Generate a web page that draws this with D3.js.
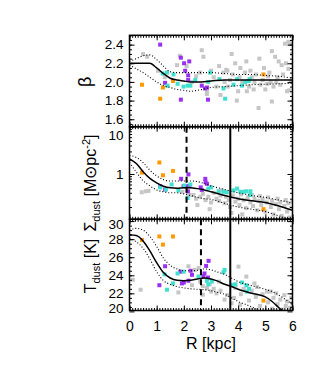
<!DOCTYPE html>
<html>
<head>
<meta charset="utf-8">
<script src="https://cdn.jsdelivr.net/npm/d3@7"></script>
<style>
body { margin: 0; background: #fff; }
text { font-family: "Liberation Sans", Arial, sans-serif; fill: #000; }
</style>
</head>
<body>
<div id="chart"></div>
<script>
// radial profiles: median and 16/84 percentile curves
var betaR = [0, 0.25, 0.5, 0.75, 1, 1.25, 1.5, 1.75, 2, 2.25, 2.5, 3, 3.5, 4, 4.5, 5, 5.5, 6];
var betaMed = [2.2, 2.2, 2.2, 2.2, 2.15, 2.09, 2.04, 2.02, 2.01, 2.0, 2.0, 2.01, 2.02, 2.02, 2.02, 2.02, 2.02, 2.02];
var betaHi = [2.22, 2.25, 2.28, 2.29, 2.24, 2.17, 2.11, 2.1, 2.1, 2.1, 2.1, 2.1, 2.09, 2.08, 2.08, 2.07, 2.06, 2.04];
var betaLo = [2.18, 2.14, 2.1, 2.05, 2.0, 1.96, 1.94, 1.92, 1.91, 1.9, 1.91, 1.94, 1.95, 1.96, 1.97, 1.975, 1.98, 1.985];

var sigR = [0, 0.25, 0.5, 0.75, 1, 1.25, 1.5, 1.75, 2, 2.25, 2.5, 2.75, 3, 3.5, 4, 4.5, 5, 5.5, 6];
var sigMed = [2.09, 1.66, 1.12, 0.81, 0.65, 0.55, 0.51, 0.5, 0.51, 0.51, 0.49, 0.46, 0.42, 0.35, 0.3, 0.27, 0.25, 0.21, 0.17];
var sigHi = [2.45, 2.24, 1.74, 1.2, 0.91, 0.76, 0.71, 0.71, 0.71, 0.71, 0.69, 0.63, 0.56, 0.47, 0.4, 0.35, 0.32, 0.28, 0.24];
var sigLo = [1.74, 1.1, 0.72, 0.56, 0.46, 0.42, 0.4, 0.4, 0.38, 0.35, 0.32, 0.3, 0.29, 0.24, 0.2, 0.18, 0.16, 0.13, 0.105];

var tR = [0, 0.25, 0.5, 0.75, 1, 1.25, 1.5, 1.75, 2, 2.25, 2.5, 2.75, 3, 3.25, 3.5, 3.75, 4, 4.5, 5, 5.25, 5.5, 5.75, 6];
var tMed = [28.5, 28.4, 27.8, 26.7, 25.4, 24.3, 23.7, 23.45, 23.4, 23.45, 23.6, 23.7, 23.6, 23.35, 23.0, 22.75, 22.45, 22.0, 21.6, 21.1, 20.4, 19.7, 19.0];
var tHi = [29.0, 29.2, 29.0, 28.3, 27.2, 25.9, 25.1, 24.7, 24.5, 24.5, 24.55, 24.7, 24.6, 24.35, 24.1, 23.7, 23.3, 22.85, 22.45, 22.2, 21.8, 21.3, 20.8];
var tLo = [28.1, 27.7, 27.0, 25.8, 24.4, 23.4, 23.0, 22.75, 22.6, 22.5, 22.45, 22.4, 22.3, 22.1, 21.9, 21.5, 21.1, 20.5, 19.7, 19.3, 18.9, 18.5, 18.2];

// pixels: [R, value]
var grayBeta = [[0.5,2.30],[0.65,2.27],[1.05,2.12],[1.3,2.05],[1.75,2.18],[1.85,2.28],[2.1,2.17],[2.3,2.0],[2.66,2.34],[2.72,2.27],[2.85,1.90],[2.85,1.87],[2.6,2.1],[3.0,2.12],[3.1,2.05],[3.3,2.17],[3.35,1.86],[3.46,2.1],[3.5,2.0],[3.56,2.13],[3.6,2.12],[3.62,1.95],[3.76,2.3],[3.8,2.08],[3.89,2.2],[3.95,1.8],[4.0,1.9],[4.05,2.05],[4.08,2.15],[4.15,2.0],[4.25,2.1],[4.32,1.9],[4.4,1.95],[4.45,2.12],[4.5,2.05],[4.57,1.92],[4.6,2.0],[4.65,2.08],[4.75,1.72],[4.78,2.25],[4.82,1.97],[4.9,2.02],[4.95,2.15],[5.0,1.92],[5.07,1.98],[5.1,2.06],[5.15,2.1],[5.24,2.33],[5.24,1.79],[5.3,1.95],[5.36,2.27],[5.4,2.0],[5.45,2.05],[5.49,2.22],[5.55,1.97],[5.6,2.18],[5.65,2.08],[5.72,2.41],[5.76,2.2],[5.8,1.9],[5.85,2.43],[5.85,2.14],[5.88,1.91],[5.91,2.41],[5.95,2.0],[5.98,2.3],[3.2,1.95],[3.7,2.02],[4.3,2.22],[5.2,2.0],[2.45,2.06]];
var orangeBeta = [[0.46,1.97],[1.13,1.82],[1.23,1.94],[1.6,2.01],[4.93,2.08]];
var purpleBeta = [[1.13,2.40],[1.31,1.99],[1.89,1.81],[1.89,2.26],[2.01,2.2],[2.05,2.12],[2.2,2.22],[2.16,2.07],[2.16,2.02],[2.66,1.96],[2.78,1.93],[2.85,1.94],[2.89,1.81]];
var turqBeta = [[1.22,2.09],[1.38,2.10],[1.4,1.96],[1.62,2.08],[1.77,1.98],[1.99,1.95],[2.14,1.96],[2.24,1.96],[2.42,2.02],[2.9,2.0],[2.97,2.1],[3.31,2.03],[3.46,1.93],[3.52,1.82],[3.83,1.97],[3.96,2.03],[4.14,1.96],[4.26,2.0],[4.39,2.01],[4.42,2.03]];

var graySig = [[0.45,0.41],[0.6,0.43],[0.7,0.44],[1.95,0.42],[2.2,0.36],[2.35,0.36],[2.45,0.3],[2.5,0.22],[2.6,0.33],[2.7,0.38],[2.8,0.28],[2.9,0.33],[3.0,0.25],[3.1,0.4],[3.2,0.3],[3.3,0.27],[3.35,0.35],[3.4,0.45],[3.5,0.24],[3.55,0.33],[3.65,0.28],[3.7,0.2],[3.8,0.35],[3.9,0.26],[4.0,0.3],[4.05,0.22],[4.1,0.37],[4.2,0.28],[4.3,0.19],[4.35,0.32],[4.45,0.25],[4.5,0.36],[4.55,0.21],[4.6,0.3],[4.7,0.17],[4.75,0.27],[4.8,0.34],[4.85,0.22],[4.9,0.29],[5.0,0.16],[5.05,0.25],[5.1,0.32],[5.2,0.2],[5.25,0.27],[5.3,0.14],[5.4,0.23],[5.45,0.3],[5.5,0.18],[5.55,0.25],[5.6,0.13],[5.7,0.21],[5.75,0.28],[5.8,0.16],[5.85,0.24],[5.9,0.12],[5.95,0.19],[6.0,0.26],[3.75,0.15],[4.15,0.14],[2.95,0.18]];
var orangeSig = [[1.1,1.75],[0.46,1.07],[1.23,0.94],[1.6,1.16],[4.93,0.18]];
var purpleSig = [[1.13,0.55],[1.31,0.47],[1.9,0.79],[1.99,0.55],[2.17,0.98],[2.1,0.55],[2.15,0.43],[2.2,0.55],[2.66,0.46],[2.79,0.79],[2.85,0.62],[2.8,0.67],[2.62,0.52]];
var turqSig = [[1.13,0.52],[1.34,0.47],[1.55,0.6],[1.8,0.45],[2.02,0.57],[2.14,0.31],[2.24,0.6],[2.9,0.49],[3.0,0.52],[3.28,0.43],[3.46,0.42],[3.58,0.41],[3.83,0.45],[3.96,0.49],[4.08,0.42],[4.2,0.42],[4.3,0.43],[4.45,0.43],[4.45,0.36]];

var grayT = [[0.12,23.5],[0.41,22.4],[1.8,22.1],[2.17,25.0],[2.4,24.6],[2.55,24.8],[2.7,22.8],[2.85,22.6],[2.95,23.0],[3.1,22.5],[2.7,21.85],[3.0,22.2],[3.2,22.0],[3.35,22.3],[3.5,21.3],[3.6,21.8],[3.76,20.9],[3.85,21.5],[4.01,24.96],[4.07,20.74],[4.1,21.9],[4.2,22.5],[4.3,23.86],[4.4,21.2],[4.5,22.3],[4.6,23.1],[4.65,21.6],[4.7,22.7],[4.8,20.6],[4.9,21.9],[5.06,22.2],[5.1,21.0],[5.2,22.2],[5.25,20.3],[5.3,21.5],[5.4,22.0],[5.45,20.8],[5.55,21.3],[5.6,20.2],[5.7,21.8],[5.75,20.6],[5.8,21.1],[5.9,20.4],[5.95,21.5],[6.0,20.9],[3.3,23.3],[3.9,22.6],[4.45,20.2],[2.3,22.9],[2.6,23.3]];
var orangeT = [[0.46,27.9],[1.1,28.3],[1.23,27.4],[1.6,28.3],[4.93,21.2]];
var purpleT = [[1.31,25.0],[1.1,22.9],[1.87,24.4],[1.93,23.1],[2.0,23.2],[2.17,23.4],[2.3,24.05],[2.25,24.5],[2.72,23.9],[2.76,24.2],[2.82,25.04],[2.91,25.6],[2.89,23.75]];
var turqT = [[1.29,24.1],[1.38,22.4],[1.6,23.1],[1.77,24.2],[1.99,24.4],[2.54,23.86],[2.85,23.38],[2.9,23.0],[3.03,23.31],[3.46,24.34],[3.5,24.6],[3.8,22.94],[3.9,23.0],[4.14,23.2],[4.3,22.9],[4.32,22.2],[4.4,22.5]];

var xTicks = [0, 1, 2, 3, 4, 5, 6];
var betaTicks = [1.6, 1.8, 2.0, 2.2, 2.4];
var sigTicks = [1, 10];
var tTicks = [20, 22, 24, 26, 28, 30];

var dashedR = [2.1, 2.63];   // panel 2, panel 3
var solidR = 3.71;

var colors = { gray: "#c6c6c6", orange: "#ff9900", purple: "#9a30f0", turq: "#40e0d0" };

var W = 314, H = 365;
var x = d3.scaleLinear().domain([0, 6]).range([129.5, 292.5]);

var svg = d3.select("#chart").append("svg")
    .attr("width", W)
    .attr("height", H);

var yB = d3.scaleLinear().domain([1.52, 2.5]).range([126.7, 35.3]);
var yS = d3.scaleLog().domain([0.11, 10]).range([219.3, 126.7]);
var yT = d3.scaleLinear().domain([20.1, 30.2]).range([310.5, 219.3]);

// tick labels sitting on a panel edge are pulled inside so they don't collide
var labelShift = { "10": 8, "30": 2.8, "20": -3 };

function range(a, b, s) {
  var out = [];
  for (var v = a; v <= b + 1e-9; v += s) out.push(+v.toFixed(4));
  return out;
}

function panel(id, y, gray, orange, purple, turq, R, med, hi, lo) {
  var top = y.range()[1], bot = y.range()[0];
  var g = svg.append("g");

  svg.append("clipPath").attr("id", "clip" + id)
    .append("rect")
      .attr("x", x.range()[0]).attr("y", top)
      .attr("width", x.range()[1] - x.range()[0]).attr("height", bot - top);

  var inner = g.append("g").attr("clip-path", "url(#clip" + id + ")");

  function dots(data, col) {
    inner.append("g").selectAll("rect")
      .data(data)
      .enter()
      .append("rect")
        .attr("x", function (d) { return x(d[0]) - 2; })
        .attr("y", function (d) { return y(d[1]) - 2; })
        .attr("width", 4).attr("height", 4)
        .attr("fill", col);
  }
  dots(gray, colors.gray);
  dots(orange, colors.orange);
  dots(purple, colors.purple);
  dots(turq, colors.turq);

  var line = d3.line()
    .x(function (d) { return x(d[0]); })
    .y(function (d) { return y(d[1]); })
    .curve(d3.curveMonotoneX);

  [hi, lo].forEach(function (v) {
    inner.append("path")
      .datum(R.map(function (r, i) { return [r, v[i]]; }))
      .attr("d", line)
      .attr("fill", "none")
      .attr("stroke", "#000")
      .attr("stroke-width", 1.1)
      .attr("stroke-dasharray", "1,2");
  });
  inner.append("path")
    .datum(R.map(function (r, i) { return [r, med[i]]; }))
    .attr("d", line)
    .attr("fill", "none")
    .attr("stroke", "#000")
    .attr("stroke-width", 1.5);

  return g;
}

function axes(g, y, major, minor, fmt, showX) {
  var top = y.range()[1], bot = y.range()[0];
  var l = x.range()[0], r = x.range()[1];

  // y ticks
  g.append("g").attr("transform", "translate(" + l + ",0)")
    .call(d3.axisLeft(y).tickValues(minor).tickSize(-2.5).tickFormat(""));
  g.append("g").attr("transform", "translate(" + r + ",0)")
    .call(d3.axisRight(y).tickValues(minor).tickSize(-2.5).tickFormat(""));
  var yl = g.append("g").attr("transform", "translate(" + l + ",0)")
    .call(d3.axisLeft(y).tickValues(major).tickSize(-5).tickPadding(6).tickFormat(fmt));
  g.append("g").attr("transform", "translate(" + r + ",0)")
    .call(d3.axisRight(y).tickValues(major).tickSize(-5).tickFormat(""));
  yl.selectAll("text")
    .style("font-size", "13.5px")
    .attr("y", function (d) { return labelShift[fmt(d)] || 0; })
    .attr("dy", "0.32em");

  // x ticks
  var xMinor = range(0, 6, 0.1);
  g.append("g").attr("transform", "translate(0," + top + ")")
    .call(d3.axisTop(x).tickValues(xMinor).tickSize(-2.5).tickFormat(""));
  g.append("g").attr("transform", "translate(0," + top + ")")
    .call(d3.axisTop(x).tickValues(xTicks).tickSize(-5).tickFormat(""));
  g.append("g").attr("transform", "translate(0," + bot + ")")
    .call(d3.axisBottom(x).tickValues(xMinor).tickSize(-2.5).tickFormat(""));
  var xa = g.append("g").attr("transform", "translate(0," + bot + ")")
    .call(d3.axisBottom(x).tickValues(xTicks).tickSize(-5).tickPadding(11)
      .tickFormat(showX ? d3.format("d") : ""));
  xa.selectAll("text").style("font-size", "14px");

  g.selectAll(".domain").remove();
  g.selectAll(".tick line").attr("stroke", "#000").attr("stroke-width", 1);

  g.append("rect")
    .attr("x", l).attr("y", top)
    .attr("width", r - l).attr("height", bot - top)
    .attr("fill", "none").attr("stroke", "#000").attr("stroke-width", 1.5);
}

var g1 = panel(1, yB, grayBeta, orangeBeta, purpleBeta, turqBeta, betaR, betaMed, betaHi, betaLo);
var g2 = panel(2, yS, graySig, orangeSig, purpleSig, turqSig, sigR, sigMed, sigHi, sigLo);
var g3 = panel(3, yT, grayT, orangeT, purpleT, turqT, tR, tMed, tHi, tLo);

// vertical markers
g2.append("line")
  .attr("x1", x(dashedR[0])).attr("x2", x(dashedR[0]))
  .attr("y1", yS.range()[1]).attr("y2", yS.range()[0])
  .attr("stroke", "#000").attr("stroke-width", 2).attr("stroke-dasharray", "6,4");
g3.append("line")
  .attr("x1", x(dashedR[1])).attr("x2", x(dashedR[1]))
  .attr("y1", yT.range()[1]).attr("y2", yT.range()[0])
  .attr("stroke", "#000").attr("stroke-width", 2).attr("stroke-dasharray", "6,4");
svg.append("line")
  .attr("x1", x(solidR)).attr("x2", x(solidR))
  .attr("y1", yS.range()[1]).attr("y2", yT.range()[0])
  .attr("stroke", "#000").attr("stroke-width", 2);

axes(g1, yB, betaTicks, range(1.55, 2.5, 0.05), d3.format(".1f"), false);
var sigMinor = [];
[0.1, 1].forEach(function (d) { for (var k = 2; k <= 9; k++) sigMinor.push(+(d * k).toFixed(2)); });
axes(g2, yS, sigTicks, sigMinor.filter(function (v) { return v >= 0.11; }), d3.format("d"), false);
axes(g3, yT, tTicks, range(20.5, 30, 0.5), d3.format("d"), true);

// axis titles
svg.append("text")
  .attr("transform", "translate(91," + yB(2.0) + ") rotate(-90)")
  .attr("text-anchor", "middle")
  .style("font-size", "18px")
  .text("β");

var sl = svg.append("text")
  .attr("transform", "translate(96,183) rotate(-90)")
  .attr("text-anchor", "middle")
  .style("font-size", "16px");
sl.append("tspan").text("Σ");
sl.append("tspan").attr("dy", 4).style("font-size", "11px").text("dust");
sl.append("tspan").attr("dy", -4).text(" [M");
sl.append("tspan").text("⊙");
sl.append("tspan").text("pc");
sl.append("tspan").attr("dy", -6).style("font-size", "11px").text("-2");
sl.append("tspan").attr("dy", 6).text("]");

var tl = svg.append("text")
  .attr("transform", "translate(96,266) rotate(-90)")
  .attr("text-anchor", "middle")
  .style("font-size", "16px");
tl.append("tspan").text("T");
tl.append("tspan").attr("dy", 4).style("font-size", "11px").text("dust");
tl.append("tspan").attr("dy", -4).text(" [K]");

svg.append("text")
  .attr("x", x(3)).attr("y", 349)
  .attr("text-anchor", "middle")
  .style("font-size", "16px")
  .text("R [kpc]");
</script>
</body>
</html>
